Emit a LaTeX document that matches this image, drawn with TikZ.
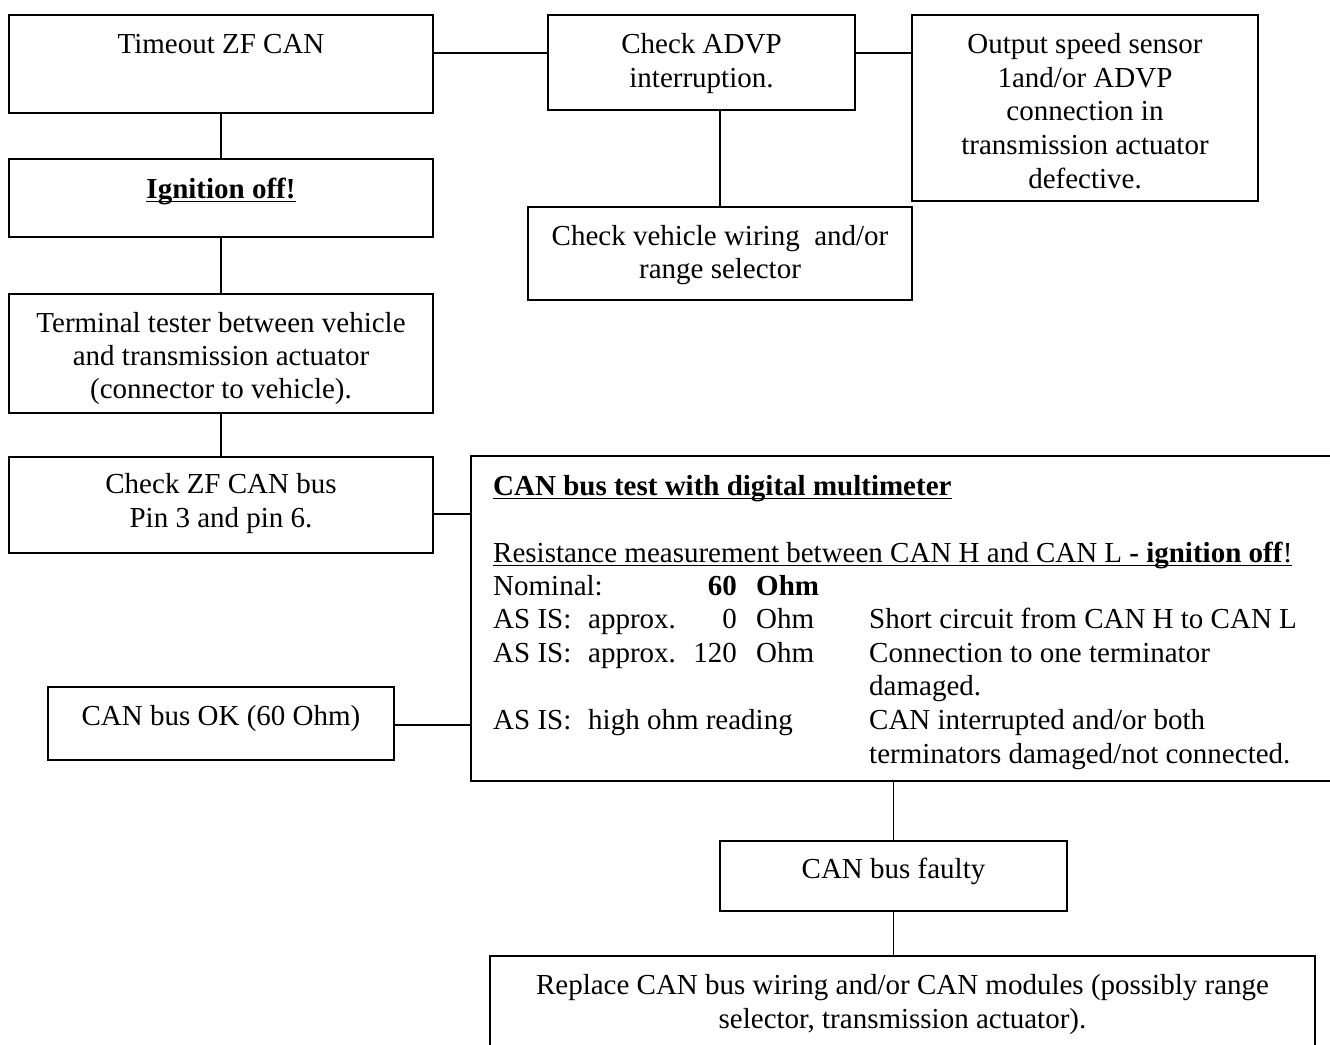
\documentclass[tikz,border=0pt]{standalone}
\usepackage{fontspec}
\setmainfont{Liberation Serif}
\newsavebox{\ulbox}
\newcommand{\myul}[1]{\sbox{\ulbox}{#1}\rlap{\rule[-4.4pt]{\wd\ulbox}{1.8pt}}\usebox{\ulbox}}
\begin{document}
\begin{tikzpicture}[x=1pt,y=-1pt,
  font=\fontsize{29}{33.5}\selectfont,
  box/.style={draw, line width=1.7pt, rectangle, inner sep=0pt},
  txt/.style={inner sep=0pt, anchor=base},
  txtw/.style={inner sep=0pt, anchor=base west},
  txte/.style={inner sep=0pt, anchor=base east},
  link/.style={line width=1.7pt}]
\useasboundingbox (0,0) rectangle (1330,1044);
\fill[white] (0,0) rectangle (1330,1044);
\clip (0,0) rectangle (1330,1044);

% boxes
\node[box, minimum width=424, minimum height=98]  (A) at (221,64) {};
\node[box, minimum width=424, minimum height=78]  (B) at (221,198) {};
\node[box, minimum width=424, minimum height=119] (C) at (221,353.5) {};
\node[box, minimum width=424, minimum height=96]  (D) at (221,505) {};
\node[box, minimum width=346, minimum height=73]  (E) at (221,723.5) {};
\node[box, minimum width=307, minimum height=95]  (F) at (701.5,62.5) {};
\node[box, minimum width=346, minimum height=186] (G) at (1085,108) {};
\node[box, minimum width=384, minimum height=93]  (H) at (720,253.5) {};
\node[box, minimum width=874, minimum height=325] (I) at (908,618.5) {};
\node[box, minimum width=347, minimum height=70]  (J) at (893.5,876) {};
\node[box, minimum width=825, minimum height=104] (K) at (902.5,1008) {};

% texts
\node[txt] (At) at (221,53) {Timeout ZF CAN};
\node[txt] (Bt) at (221,198) {\textbf{\myul{Ignition off!}}};
\node[txt] (Ct1) at (221,332) {Terminal tester between vehicle};
\node[txt] (Ct2) at (221,365) {and transmission actuator};
\node[txt] (Ct3) at (221,398) {(connector to vehicle).};
\node[txt] (Dt1) at (221,493) {Check ZF CAN bus};
\node[txt] (Dt2) at (221,527) {Pin 3 and pin 6.};
\node[txt] (Et) at (221,725) {CAN bus OK (60 Ohm)};
\node[txt] (Ft1) at (701.5,53) {Check ADVP};
\node[txt] (Ft2) at (701.5,87) {interruption.};
\node[txt] (Gt1) at (1085,53) {Output speed sensor};
\node[txt] (Gt2) at (1085,87) {1and/or ADVP};
\node[txt] (Gt3) at (1085,120) {connection in};
\node[txt] (Gt4) at (1085,154) {transmission actuator};
\node[txt] (Gt5) at (1085,188) {defective.};
\node[txt] (Ht1) at (720,245) {Check vehicle wiring\ \ and/or};
\node[txt] (Ht2) at (720,278) {range selector};
\node[txt] (Jt) at (893.5,878) {CAN bus faulty};
\node[txt] (Kt1) at (902.5,994) {Replace CAN bus wiring and/or CAN modules (possibly range};
\node[txt] (Kt2) at (902.5,1028) {selector, transmission actuator).};

% big box content
\node[txtw] (It1) at (493,495) {\textbf{\myul{CAN bus test with digital multimeter}}};
\node[txtw] (It2) at (493,562) {\myul{Resistance measurement between CAN H and CAN L \textbf{- ignition off}!}};
\node[txtw] (It3a) at (493,595) {Nominal:};
\node[txte] (It3b) at (737,595) {\textbf{60}};
\node[txtw] (It3c) at (756,595) {\textbf{Ohm}};
\node[txtw] (It4a) at (493,628) {AS IS:};
\node[txtw] (It4b) at (588,628) {approx.};
\node[txte] (It4c) at (737,628) {0};
\node[txtw] (It4d) at (756,628) {Ohm};
\node[txtw] (It4e) at (869,628) {Short circuit from CAN H to CAN L};
\node[txtw] (It5a) at (493,662) {AS IS:};
\node[txtw] (It5b) at (588,662) {approx.};
\node[txte] (It5c) at (737,662) {120};
\node[txtw] (It5d) at (756,662) {Ohm};
\node[txtw] (It5e) at (869,662) {Connection to one terminator};
\node[txtw] (It6) at (869,695) {damaged.};
\node[txtw] (It7a) at (493,729) {AS IS:};
\node[txtw] (It7b) at (588,729) {high ohm reading};
\node[txtw] (It7c) at (869,729) {CAN interrupted and/or both};
\node[txtw] (It8) at (869,763) {terminators damaged/not connected.};

% connectors
\draw[link] (A.east |- At.base) -- (F.west |- At.base);
\draw[link] (F.east |- At.base) -- (G.west |- At.base);
\draw[link] (H.north) -- (H.north |- F.south);
\draw[link] (A.south) -- (B.north);
\draw[link] (B.south) -- (C.north);
\draw[link] (C.south) -- (D.north);
\draw[link] ([yshift=-9pt]D.east) -- ([yshift=-9pt]D.east -| I.west);
\draw[link] ([yshift=-1.5pt]E.east) -- ([yshift=-1.5pt]E.east -| I.west);
\draw[link] (J.north |- I.south) -- (J.north);
\draw[link] (J.south) -- (J.south |- K.north);
\end{tikzpicture}
\end{document}
